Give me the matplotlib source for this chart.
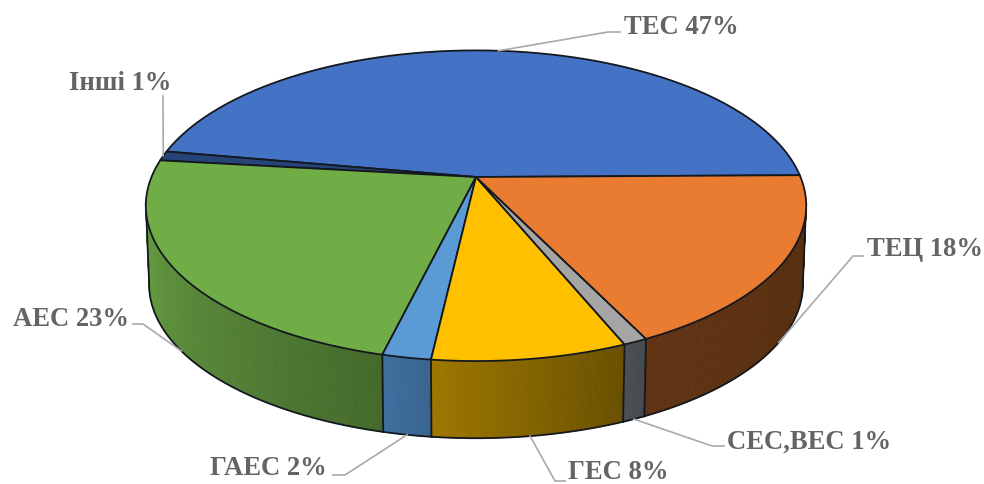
import numpy as np
import matplotlib
matplotlib.use("Agg")
import matplotlib.pyplot as plt
from matplotlib.collections import PolyCollection
from matplotlib.colors import to_rgb

# data, counter clockwise from the right side of the pie
names = ["ТЕС", "Інші", "АЕС", "ГАЕС", "ГЕС", "СЕС,ВЕС", "ТЕЦ"]
values = [47, 1, 23, 2, 8, 1, 18]

top_colors = ["#4472c4", "#264478", "#70ad47", "#5b9bd5", "#ffc000", "#a5a5a5", "#e97c30"]
rim_left = ["#2c4a80", "#18305c", "#68a043", "#3f709f", "#9e7700", "#4c5054", "#5f3212"]
rim_right = ["#2c4a80", "#18305c", "#446a2b", "#38648f", "#695000", "#454a4e", "#57300f"]

# label left/centre and leader elbows, in pixels
label_pos = [(624, 27), (69, 84), (13, 319.5), (210, 469), (568, 472.5), (727, 442), (867, 249)]
elbows = [
    [(608, 33), (620, 33)],
    [(163, 97)],
    [(143, 325), (133, 325)],
    [(345, 476), (333, 476)],
    [(555, 482), (565, 482)],
    [(712, 447), (724, 447)],
    [(853, 257), (863, 257)],
]

# pie geometry (perspective of a flat disc)
cx, cy = 476, 178
sx, sy = 324.5, 150
persp = 0.185
depth = 79
shrink = 0.99
start = 0.7


def disc(t, bottom=False):
    r = np.radians(t)
    X, Y = np.cos(r), np.sin(r)
    w = 1 + persp * Y
    x, y = sx * X / w, -sy * Y / w
    if bottom:
        return cx + x * shrink, cy + y * shrink + depth
    return cx + x, cy + y


dark = "#14181f"
grey = "#a9a9a9"
text_col = "#646464"

fig = plt.figure(figsize=(9.84, 4.85), dpi=100)
ax = fig.add_axes([0, 0, 1, 1])
ax.set_xlim(0, 984)
ax.set_ylim(485, 0)
ax.axis("off")

edges = start + np.concatenate([[0], np.cumsum(values)]) * 360 / sum(values)
vis_from, vis_to = 190, 350

# side of the pie, small quads so the colour can run across the slice
for i in range(len(values)):
    a = max(edges[i], vis_from)
    b = min(edges[i + 1], vis_to)
    if b <= a:
        continue
    ts = np.linspace(a, b, int((b - a) * 3) + 2)
    quads, cols = [], []
    c1, c2 = np.array(to_rgb(rim_left[i])), np.array(to_rgb(rim_right[i]))
    for k in range(len(ts) - 1):
        x0, y0 = disc(ts[k])
        x1, y1 = disc(ts[k + 1])
        x2, y2 = disc(ts[k + 1], True)
        x3, y3 = disc(ts[k], True)
        quads.append([(x0, y0), (x1, y1), (x2, y2), (x3, y3)])
        cols.append(c1 + (c2 - c1) * k / max(len(ts) - 2, 1))
    ax.add_collection(PolyCollection(quads, facecolors=cols, edgecolors=cols, linewidths=0.6, zorder=2))
    xb, yb = disc(ts, True)
    ax.plot(xb, yb, color=dark, lw=1.3, zorder=3)

# seams on the side, and the two ends of it
for t in list(edges[1:-1]) + [vis_from, vis_to]:
    if vis_from <= t <= vis_to:
        xa, ya = disc(t)
        xb, yb = disc(t, True)
        ax.plot([xa, xb], [ya, yb], color=dark, lw=1.3, zorder=3)

# top of the pie
for i in range(len(values)):
    ts = np.linspace(edges[i], edges[i + 1], 200)
    x, y = disc(ts)
    ax.fill(np.r_[cx, x], np.r_[cy, y], facecolor=top_colors[i], edgecolor=dark, lw=1.3, joinstyle="round", zorder=4)

# leaders and labels
for i in range(len(values)):
    mid = (edges[i] + edges[i + 1]) / 2
    x0, y0 = disc(mid, np.sin(np.radians(mid)) < 0)
    xs = [x0] + [p[0] for p in elbows[i]]
    ys = [y0] + [p[1] for p in elbows[i]]
    ax.plot(xs, ys, color=grey, lw=1.2, zorder=5)
    ax.text(label_pos[i][0], label_pos[i][1], f"{names[i]} {values[i]}%", family="Liberation Serif",
            fontweight="bold", fontsize=19.2, color=text_col, ha="left", va="center", zorder=6)

fig.savefig("out.png", dpi=100)
